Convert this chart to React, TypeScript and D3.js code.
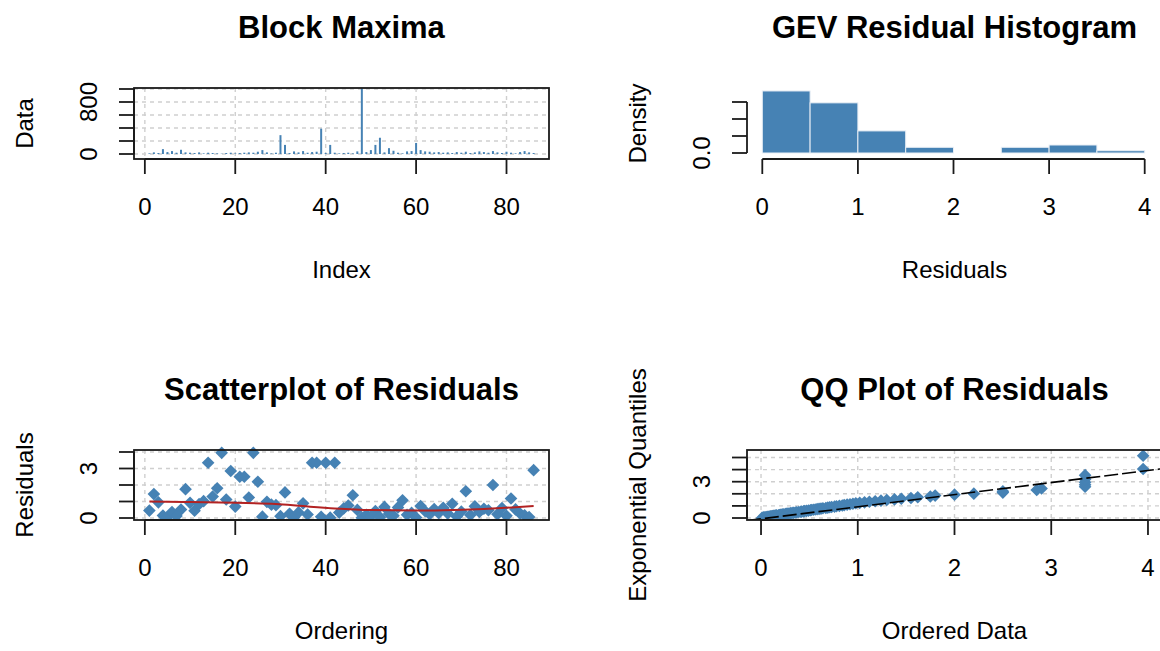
import React, { useEffect, useRef } from 'react';
import * as d3 from 'd3';

// block maxima, one per block (index 1..86)
const blockMaxima = [
  10, 25, 15, 75, 30, 45, 20, 65, 25, 20,
  15, 25, 10, 20, 15, 10, 5, 15, 20, 10,
  15, 20, 25, 20, 35, 60, 25, 10, 20, 290,
  140, 15, 40, 25, 45, 20, 30, 35, 390, 15,
  140, 20, 10, 15, 20, 10, 40, 1010, 30, 60,
  140, 250, 25, 90, 50, 20, 10, 40, 45, 170,
  60, 40, 35, 25, 30, 20, 25, 15, 30, 20,
  35, 15, 25, 40, 30, 20, 45, 25, 15, 35,
  20, 10, 30, 45, 25, 15,
];

// GEV residuals in block order
const residuals = [
  0.45, 1.45, 0.95, 0.15, 0.04, 0.36, 0.12, 0.51, 1.75, 0.92,
  0.44, 0.84, 1.02, 3.35, 1.3, 1.8, 3.95, 1.12, 2.85, 0.69,
  2.5, 2.5, 1.24, 3.95, 2.2, 0.08, 0.98, 0.81, 0.78, 0.11,
  1.55, 0.26, 0.03, 0.34, 0.89, 0.21, 3.35, 3.35, 0.07, 3.35,
  0.02, 3.35, 0.33, 0.58, 0.76, 1.38, 0.49, 0.01, 0.2, 0.1,
  0.42, 0.05, 0.67, 0.25, 0.14, 0.64, 1.07, 0.19, 0.31, 0.025,
  0.73, 0.41, 0.23, 0.54, 0.3, 0.62, 0.28, 0.86, 0.09, 0.39,
  1.62, 0.18, 0.71, 0.37, 0.56, 0.47, 2.0, 0.22, 0.6, 0.13,
  1.18, 0.52, 0.27, 0.16, 0.06, 2.9,
];

// histogram of residuals
const histBreaks = [0, 0.5, 1, 1.5, 2, 2.5, 3, 3.5, 4];
const histDensity = [0.73, 0.59, 0.26, 0.067, 0, 0.067, 0.094, 0.027];

// lowess smooth on the scatterplot
const lowessX = [1, 10, 20, 29, 35, 42, 50, 60, 66, 75, 82, 86];
const lowessY = [1.0, 0.97, 0.92, 0.85, 0.72, 0.58, 0.48, 0.45, 0.47, 0.55, 0.65, 0.72];

// reference line on the QQ plot
const qqIntercept = -0.07;
const qqSlope = 1.0;

const indexTicks = [0, 20, 40, 60, 80];
const blockYTicks = [0, 200, 400, 600, 800, 1000];
const blockYLabels = [0, 800];
const histXTicks = [0, 1, 2, 3, 4];
const histYTicks = [0, 0.2, 0.4, 0.6];
const histYLabels = [0];
const residYTicks = [0, 1, 2, 3, 4];
const residYLabels = [0, 3];
const qqXTicks = [0, 1, 2, 3, 4];
const qqYTicks = [0, 1, 2, 3, 4, 5];
const qqYLabels = [0, 3];

const W = 1160;
const H = 651;
const FONT = '"Liberation Sans", Arial, sans-serif';
const BLUE = 'steelblue';
const INK = '#1a1a1a';

function drawPanel(svg, p) {
  const g = svg.append('g');
  const { x, y, x0, x1, y0, y1 } = p;

  g.append('clipPath').attr('id', p.id)
    .append('rect').attr('x', x0).attr('y', y0 - 6).attr('width', x1 - x0).attr('height', y1 - y0 + 6);

  if (p.grid) {
    g.selectAll('.gx').data(p.xTicks).enter().append('line')
      .attr('x1', d => x(d)).attr('x2', d => x(d)).attr('y1', y0).attr('y2', y1)
      .attr('stroke', '#cfcfcf').attr('stroke-width', 1.4).attr('stroke-dasharray', '4,4');
    g.selectAll('.gy').data(p.yTicks).enter().append('line')
      .attr('x1', x0).attr('x2', x1).attr('y1', d => y(d)).attr('y2', d => y(d))
      .attr('stroke', '#cfcfcf').attr('stroke-width', 1.4).attr('stroke-dasharray', '4,4');
  }

  const marks = g.append('g').attr('clip-path', p.box ? `url(#${p.id})` : null);

  if (p.box) {
    g.append('rect').attr('x', x0).attr('y', y0).attr('width', x1 - x0).attr('height', y1 - y0)
      .attr('fill', 'none').attr('stroke', INK).attr('stroke-width', 1.8);
  }

  // x axis
  const xt = p.xTicks;
  g.append('line').attr('x1', x(xt[0])).attr('x2', x(xt[xt.length - 1]))
    .attr('y1', y1).attr('y2', y1).attr('stroke', INK).attr('stroke-width', 1.8);
  g.selectAll('.xt').data(xt).enter().append('line')
    .attr('x1', d => x(d)).attr('x2', d => x(d)).attr('y1', y1).attr('y2', y1 + 15)
    .attr('stroke', INK).attr('stroke-width', 1.8);
  g.selectAll('.xl').data(xt).enter().append('text')
    .attr('x', d => x(d)).attr('y', y1 + 56)
    .attr('text-anchor', 'middle').attr('font-size', 24).attr('font-family', FONT)
    .text(d => String(d));

  // y axis
  const yt = p.yTicks;
  g.append('line').attr('x1', x0).attr('x2', x0)
    .attr('y1', y(yt[0])).attr('y2', y(yt[yt.length - 1])).attr('stroke', INK).attr('stroke-width', 1.8);
  g.selectAll('.yt').data(yt).enter().append('line')
    .attr('x1', x0 - 15).attr('x2', x0).attr('y1', d => y(d)).attr('y2', d => y(d))
    .attr('stroke', INK).attr('stroke-width', 1.8);
  g.selectAll('.yl').data(p.yLabels).enter().append('text')
    .attr('transform', d => `translate(${x0 - 37},${y(d)}) rotate(-90)`)
    .attr('text-anchor', 'middle').attr('font-size', 24).attr('font-family', FONT)
    .text(d => p.yFormat ? p.yFormat(d) : String(d));

  // titles
  g.append('text').attr('x', (x0 + x1) / 2).attr('y', y0 - 50)
    .attr('text-anchor', 'middle').attr('font-size', 31).attr('font-weight', 'bold')
    .attr('font-family', FONT).text(p.title);
  g.append('text').attr('x', (x0 + x1) / 2).attr('y', y1 + 119)
    .attr('text-anchor', 'middle').attr('font-size', 24).attr('font-family', FONT).text(p.xlab);
  g.append('text').attr('transform', `translate(${x0 - 101},${(y0 + y1) / 2}) rotate(-90)`)
    .attr('text-anchor', 'middle').attr('font-size', 24).attr('font-family', FONT).text(p.ylab);

  return marks;
}

// R's pch 18: a filled square stood on its corner
const diamond = d3.symbol().type(d3.symbolSquare).size(80);

const App = () => {
  const svgRef = useRef(null);

  useEffect(() => {
    const svg = d3.select(svgRef.current);
    svg.selectAll('*').remove();

    const L = [134, 549];
    const R = [747, 1162];
    const T = [88, 159];
    const B = [450, 520];
    const idx = residuals.map((_, i) => i + 1);

    // Block Maxima
    const x1 = d3.scaleLinear().domain([-2.4, 89.4]).range(L);
    const y1 = d3.scaleLinear().domain([-76.9, 1015.4]).range([T[1], T[0]]);
    const m1 = drawPanel(svg, {
      id: 'c1', x: x1, y: y1, x0: L[0], x1: L[1], y0: T[0], y1: T[1], grid: true, box: true,
      xTicks: indexTicks, yTicks: blockYTicks, yLabels: blockYLabels,
      title: 'Block Maxima', xlab: 'Index', ylab: 'Data',
    });
    m1.selectAll('line').data(blockMaxima).enter().append('line')
      .attr('x1', (d, i) => x1(i + 1)).attr('x2', (d, i) => x1(i + 1))
      .attr('y1', y1(0)).attr('y2', d => y1(d))
      .attr('stroke', BLUE).attr('stroke-width', 2);

    // GEV Residual Histogram
    const x2 = d3.scaleLinear().domain([-0.16, 4.16]).range([R[0], R[0] + 413]);
    const y2 = d3.scaleLinear().domain([-0.0706, 0.7647]).range([T[1], T[0]]);
    const m2 = drawPanel(svg, {
      id: 'c2', x: x2, y: y2, x0: R[0], x1: R[1], y0: T[0], y1: T[1], grid: false, box: false,
      xTicks: histXTicks, yTicks: histYTicks, yLabels: histYLabels, yFormat: d => d.toFixed(1),
      title: 'GEV Residual Histogram', xlab: 'Residuals', ylab: 'Density',
    });
    m2.selectAll('rect').data(histDensity).enter().append('rect')
      .attr('x', (d, i) => x2(histBreaks[i]))
      .attr('width', (d, i) => x2(histBreaks[i + 1]) - x2(histBreaks[i]))
      .attr('y', d => y2(d)).attr('height', d => y2(0) - y2(d))
      .attr('fill', BLUE).attr('stroke', d => d > 0 ? '#e8eef5' : 'none').attr('stroke-width', 1);

    // Scatterplot of Residuals
    const x3 = d3.scaleLinear().domain([-2.4, 89.4]).range(L);
    const y3 = d3.scaleLinear().domain([-0.121, 4.121]).range([B[1], B[0]]);
    const m3 = drawPanel(svg, {
      id: 'c3', x: x3, y: y3, x0: L[0], x1: L[1], y0: B[0], y1: B[1], grid: true, box: true,
      xTicks: indexTicks, yTicks: residYTicks, yLabels: residYLabels,
      title: 'Scatterplot of Residuals', xlab: 'Ordering', ylab: 'Residuals',
    });
    m3.selectAll('path.pt').data(residuals).enter().append('path')
      .attr('class', 'pt').attr('d', diamond)
      .attr('transform', (d, i) => `translate(${x3(idx[i])},${y3(d)}) rotate(45)`)
      .attr('fill', BLUE);
    const lw = d3.line().x(d => x3(d[0])).y(d => y3(d[1])).curve(d3.curveMonotoneX);
    m3.append('path').attr('d', lw(lowessX.map((v, i) => [v, lowessY[i]])))
      .attr('fill', 'none').attr('stroke', '#B22222').attr('stroke-width', 2);

    // QQ Plot of Residuals
    const x4 = d3.scaleLinear().domain([-0.145, 4.145]).range(R);
    const y4 = d3.scaleLinear().domain([-0.165, 5.62]).range([B[1], B[0]]);
    const m4 = drawPanel(svg, {
      id: 'c4', x: x4, y: y4, x0: R[0], x1: R[1], y0: B[0], y1: B[1], grid: true, box: true,
      xTicks: qqXTicks, yTicks: qqYTicks, yLabels: qqYLabels,
      title: 'QQ Plot of Residuals', xlab: 'Ordered Data', ylab: 'Exponential Quantiles',
    });
    const sorted = residuals.slice().sort(d3.ascending);
    const n = sorted.length;
    const expQ = sorted.map((_, i) => -Math.log(1 - (i + 0.5) / n));
    m4.selectAll('path.pt').data(sorted).enter().append('path')
      .attr('class', 'pt').attr('d', diamond)
      .attr('transform', (d, i) => `translate(${x4(d)},${y4(expQ[i])}) rotate(45)`)
      .attr('fill', BLUE);
    const xd = x4.domain();
    m4.append('line')
      .attr('x1', x4(xd[0])).attr('y1', y4(qqIntercept + qqSlope * xd[0]))
      .attr('x2', x4(xd[1])).attr('y2', y4(qqIntercept + qqSlope * xd[1]))
      .attr('stroke', '#000').attr('stroke-width', 1.6).attr('stroke-dasharray', '14,4');
  }, []);

  return (
    <svg ref={svgRef} width={W} height={H}
      style={{ position: 'absolute', left: 0, top: 0, background: '#fff' }}>
    </svg>
  );
};

export default App;
